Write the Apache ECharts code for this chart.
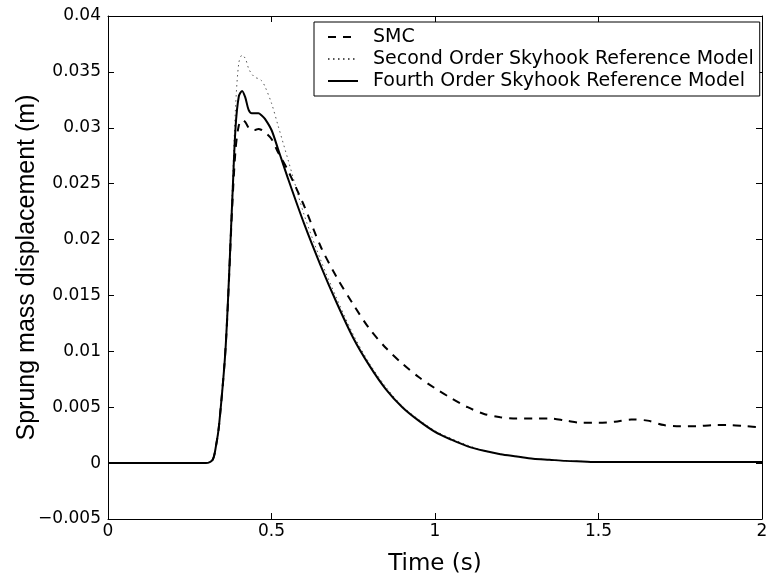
<!DOCTYPE html>
<html>
<head>
<meta charset="utf-8">
<script src="https://cdn.jsdelivr.net/npm/echarts@6/dist/echarts.min.js"></script>
<style>
  html, body { margin: 0; padding: 0; background: #fff; }
  #chart { width: 770px; height: 577px; }
</style>
</head>
<body>
<div id="chart"></div>
<script>
// Time samples (s)
const time = [0, 0.30, 0.32, 0.33, 0.34, 0.36, 0.38, 0.39, 0.40, 0.41,
  0.42, 0.43, 0.44, 0.45, 0.46, 0.47, 0.48, 0.50, 0.52, 0.55,
  0.60, 0.65, 0.70, 0.75, 0.80, 0.85, 0.90, 0.95, 1.00, 1.05,
  1.10, 1.15, 1.20, 1.25, 1.30, 1.35, 1.40, 1.45, 1.50, 1.55,
  1.60, 1.65, 1.70, 1.75, 1.80, 1.85, 1.90, 1.95, 2.00];

// Sprung mass displacement (m)
const smc = [0, 0, 0.0003, 0.0015, 0.0035, 0.0105, 0.0230, 0.0280, 0.0302, 0.0307,
  0.0305, 0.0300, 0.0298, 0.0298, 0.0299, 0.0298, 0.0296, 0.0290, 0.0278, 0.0262,
  0.0230, 0.0194, 0.0166, 0.0142, 0.0120, 0.0103, 0.0089, 0.0077, 0.0067, 0.0058,
  0.0050, 0.0044, 0.0041, 0.0040, 0.0040, 0.0040, 0.0038, 0.0036, 0.0036, 0.0037,
  0.0039, 0.0038, 0.0034, 0.0033, 0.0033, 0.0034, 0.0034, 0.0033, 0.0032];

const secondOrder = [0, 0, 0.0003, 0.0015, 0.0035, 0.0108, 0.0245, 0.0318, 0.0358, 0.0365,
  0.0362, 0.0353, 0.0348, 0.0345, 0.0344, 0.0342, 0.0337, 0.0322, 0.0302, 0.0272,
  0.0222, 0.0182, 0.0147, 0.0115, 0.0089, 0.0068, 0.0051, 0.0039, 0.0029, 0.0022,
  0.0016, 0.0011, 0.0008, 0.0006, 0.0004, 0.0003, 0.0002, 0.00015, 0.0001, 0.0001,
  0.0001, 0.0001, 0.0001, 0.0001, 0.0001, 0.0001, 0.0001, 0.0001, 0.0001];

const fourthOrder = [0, 0, 0.0003, 0.0015, 0.0035, 0.0105, 0.0235, 0.0300, 0.0328, 0.0333,
  0.0327, 0.0316, 0.0313, 0.0313, 0.0313, 0.0311, 0.0308, 0.0298, 0.0281, 0.0255,
  0.0214, 0.0177, 0.0143, 0.0112, 0.0087, 0.0066, 0.0050, 0.0038, 0.0028, 0.0021,
  0.0015, 0.0011, 0.0008, 0.0006, 0.0004, 0.0003, 0.0002, 0.00015, 0.0001, 0.0001,
  0.0001, 0.0001, 0.0001, 0.0001, 0.0001, 0.0001, 0.0001, 0.0001, 0.0001];

const seriesNames = ['SMC', 'Second Order Skyhook Reference Model', 'Fourth Order Skyhook Reference Model'];

const pair = (ys) => time.map((t, i) => [t, ys[i]]);
const WIDE = '"DejaVu Sans", sans-serif';
const NARROW = '"Liberation Sans", Arial, sans-serif';

const fmtY = (v) => {
  const r = Math.round(v * 1000) / 1000;
  if (r === 0) return '0';
  const s = String(Math.abs(r));
  return r < 0 ? '\u2212' + s : s;
};

const chart = echarts.init(document.getElementById('chart'), null, { renderer: 'canvas' });

const axisLine = { show: true, onZero: false, lineStyle: { color: '#000', width: 1 } };
const innerTick = { show: true, inside: true, length: 6, lineStyle: { color: '#000' } };

chart.setOption({
  backgroundColor: '#fff',
  animation: false,
  grid: { left: 108, right: 8, top: 16, bottom: 58, containLabel: false, outerBoundsMode: 'none' },
  legend: {
    data: seriesNames,
    orient: 'vertical',
    left: 314,
    top: 22,
    itemWidth: 30,
    itemHeight: 14,
    itemGap: 0,
    itemStyle: { opacity: 0 },
    padding: [4, 6, 4, 13],
    borderColor: '#000',
    borderWidth: 1,
    backgroundColor: '#fff',
    textStyle: { fontFamily: WIDE, fontSize: 19, lineHeight: 22, color: '#000', padding: [0, 0, 0, 10] }
  },
  xAxis: [
    {
      type: 'value', min: 0, max: 2, interval: 0.5,
      name: 'Time (s)', nameLocation: 'middle', nameGap: 34,
      nameTextStyle: { fontFamily: WIDE, fontSize: 23, color: '#000' },
      nameMoveOverlap: false,
      axisLine, axisTick: innerTick,
      axisLabel: { fontFamily: WIDE, fontSize: 17, color: '#000', margin: 4 },
      splitLine: { show: false }
    },
    {
      type: 'value', min: 0, max: 2, interval: 0.5, position: 'top',
      axisLine, axisTick: innerTick,
      axisLabel: { show: false },
      splitLine: { show: false }
    }
  ],
  yAxis: [
    {
      type: 'value', min: -0.005, max: 0.04, interval: 0.005,
      name: 'Sprung mass displacement (m)', nameLocation: 'middle', nameGap: 68,
      nameTextStyle: { fontFamily: NARROW, fontSize: 25, color: '#000' },
      nameMoveOverlap: false,
      axisLine, axisTick: innerTick,
      axisLabel: { fontFamily: WIDE, fontSize: 17, color: '#000', margin: 7, formatter: fmtY },
      splitLine: { show: false }
    },
    {
      type: 'value', min: -0.005, max: 0.04, interval: 0.005, position: 'right',
      axisLine, axisTick: innerTick,
      axisLabel: { show: false },
      splitLine: { show: false }
    }
  ],
  series: [
    {
      name: seriesNames[0], type: 'line', data: pair(smc),
      symbol: 'none', smooth: 0.3,
      lineStyle: { color: '#000', width: 2, type: [8, 7] },
      itemStyle: { color: '#000' }, z: 3
    },
    {
      name: seriesNames[1], type: 'line', data: pair(secondOrder),
      symbol: 'none', smooth: 0.3,
      lineStyle: { color: '#555', width: 1, type: [1.5, 3.5] },
      itemStyle: { color: '#555' }, z: 2
    },
    {
      name: seriesNames[2], type: 'line', data: pair(fourthOrder),
      symbol: 'none', smooth: 0.3,
      lineStyle: { color: '#000', width: 2, type: 'solid' },
      itemStyle: { color: '#000' }, z: 4
    }
  ]
});
</script>
</body>
</html>
